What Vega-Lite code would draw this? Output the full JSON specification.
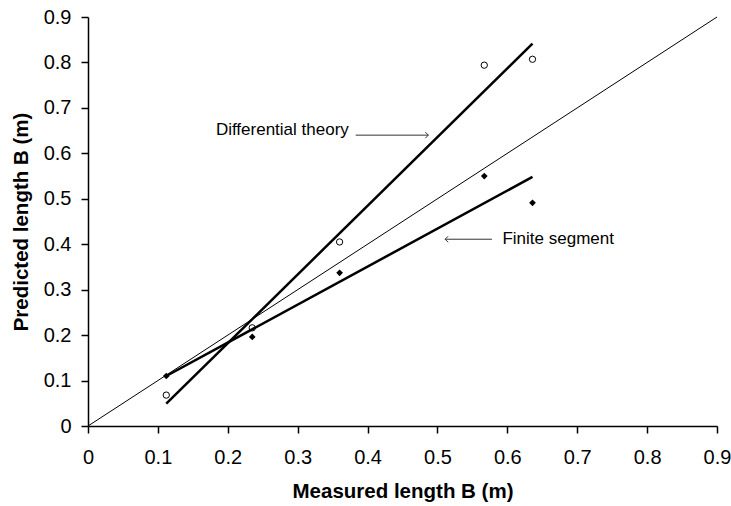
{
  "$schema": "https://vega.github.io/schema/vega-lite/v6.json",
  "width": 629,
  "height": 409,
  "autosize": "none",
  "padding": {"left": 88, "top": 17, "right": 14, "bottom": 80},
  "background": "white",
  "config": {"view": {"stroke": null}, "font": "Liberation Sans"},
  "datasets": {
    "points": [
      {"series": "Differential theory", "x": 0.112, "y": 0.068},
      {"series": "Differential theory", "x": 0.235, "y": 0.216},
      {"series": "Differential theory", "x": 0.36, "y": 0.405},
      {"series": "Differential theory", "x": 0.567, "y": 0.794},
      {"series": "Differential theory", "x": 0.636, "y": 0.807},
      {"series": "Finite segment", "x": 0.112, "y": 0.110},
      {"series": "Finite segment", "x": 0.235, "y": 0.196},
      {"series": "Finite segment", "x": 0.36, "y": 0.337},
      {"series": "Finite segment", "x": 0.567, "y": 0.550},
      {"series": "Finite segment", "x": 0.636, "y": 0.491}
    ],
    "lines": [
      {"line": "diag", "x": 0, "y": 0},
      {"line": "diag", "x": 0.9, "y": 0.9},
      {"line": "diff", "x": 0.112, "y": 0.049},
      {"line": "diff", "x": 0.636, "y": 0.8415},
      {"line": "fin", "x": 0.112, "y": 0.110},
      {"line": "fin", "x": 0.636, "y": 0.548}
    ],
    "notes": [
      {"label": "Differential theory", "tx": 0.183, "ty": 0.651, "x1": 0.383, "x2": 0.487, "ay": 0.64, "tipx": 0.487, "angle": 0},
      {"label": "Finite segment", "tx": 0.593, "ty": 0.411, "x1": 0.578, "x2": 0.511, "ay": 0.411, "tipx": 0.511, "angle": 180}
    ]
  },
  "layer": [
    {
      "data": {"name": "lines"},
      "transform": [{"filter": "datum.line === 'diag'"}],
      "mark": {"type": "line", "color": "black", "strokeWidth": 1},
      "encoding": {
        "x": {"field": "x", "type": "quantitative", "scale": {"domain": [0, 0.9], "nice": false},
          "axis": {"values": [0,0.1,0.2,0.3,0.4,0.5,0.6,0.7,0.8,0.9], "format": ".1~f", "grid": false, "domainColor": "black", "domainWidth": 1.5, "tickColor": "black", "tickWidth": 1.5, "tickSize": 7, "labelFontSize": 20, "labelColor": "black", "labelPadding": 14, "title": "Measured length B (m)", "titleFontSize": 20.5, "titleFontWeight": "bold", "titleColor": "black", "titlePadding": 14, "labelFlush": false}},
        "y": {"field": "y", "type": "quantitative", "scale": {"domain": [0, 0.9], "nice": false},
          "axis": {"values": [0,0.1,0.2,0.3,0.4,0.5,0.6,0.7,0.8,0.9], "format": ".1~f", "grid": false, "domainColor": "black", "domainWidth": 1.5, "tickColor": "black", "tickWidth": 1.5, "tickSize": 7, "labelFontSize": 20, "labelColor": "black", "labelPadding": 10, "title": "Predicted length B (m)", "titleFontSize": 20.5, "titleFontWeight": "bold", "titleColor": "black", "titlePadding": 12, "labelFlush": false}},
        "detail": {"field": "line"}
      }
    },
    {
      "data": {"name": "lines"},
      "transform": [{"filter": "datum.line !== 'diag'"}],
      "mark": {"type": "line", "color": "black", "strokeWidth": 2.5},
      "encoding": {
        "x": {"field": "x", "type": "quantitative"},
        "y": {"field": "y", "type": "quantitative"},
        "detail": {"field": "line"}
      }
    },
    {
      "data": {"name": "points"},
      "transform": [{"filter": "datum.series === 'Differential theory'"}],
      "mark": {"type": "point", "shape": "circle", "filled": false, "color": "black", "strokeWidth": 1, "size": 40, "opacity": 1},
      "encoding": {
        "x": {"field": "x", "type": "quantitative"},
        "y": {"field": "y", "type": "quantitative"}
      }
    },
    {
      "data": {"name": "points"},
      "transform": [{"filter": "datum.series === 'Finite segment'"}],
      "mark": {"type": "point", "shape": "diamond", "filled": true, "color": "black", "size": 45, "opacity": 1},
      "encoding": {
        "x": {"field": "x", "type": "quantitative"},
        "y": {"field": "y", "type": "quantitative"}
      }
    },
    {
      "data": {"name": "notes"},
      "mark": {"type": "text", "align": "left", "baseline": "middle", "fontSize": 17, "color": "black"},
      "encoding": {
        "x": {"field": "tx", "type": "quantitative"},
        "y": {"field": "ty", "type": "quantitative"},
        "text": {"field": "label"}
      }
    },
    {
      "data": {"name": "notes"},
      "mark": {"type": "rule", "color": "#333", "strokeWidth": 1},
      "encoding": {
        "x": {"field": "x1", "type": "quantitative"},
        "x2": {"field": "x2"},
        "y": {"field": "ay", "type": "quantitative"}
      }
    },
    {
      "data": {"name": "notes"},
      "mark": {"type": "point", "shape": "M-1,-1L0,0L-1,1", "filled": false, "color": "#333", "strokeWidth": 1, "size": 36, "opacity": 1},
      "encoding": {
        "x": {"field": "tipx", "type": "quantitative"},
        "y": {"field": "ay", "type": "quantitative"},
        "angle": {"field": "angle", "type": "quantitative", "scale": null}
      }
    }
  ]
}
